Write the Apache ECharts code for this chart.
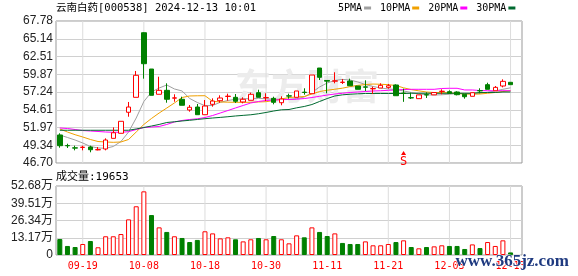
<!DOCTYPE html>
<html><head><meta charset="utf-8">
<script src="https://cdn.jsdelivr.net/npm/echarts@6/dist/echarts.min.js"></script>
<style>html,body{margin:0;padding:0;background:#fff}#c{width:578px;height:276px}</style>
</head><body><div id="c"></div>
<script>
const dates = ['09-12','09-13','09-18','09-19','09-20','09-23','09-24','09-25','09-26','09-27',
'09-30','10-08','10-09','10-10','10-11','10-14','10-15','10-16','10-17','10-18',
'10-21','10-22','10-23','10-24','10-25','10-28','10-29','10-30','10-31','11-01',
'11-04','11-05','11-06','11-07','11-08','11-11','11-12','11-13','11-14','11-15',
'11-18','11-19','11-20','11-21','11-22','11-25','11-26','11-27','11-28','11-29',
'12-02','12-03','12-04','12-05','12-06','12-09','12-10','12-11','12-12','12-13'];
const opens = [50.86,49.30,48.95,49.01,49.07,48.65,48.78,50.36,51.11,54.23,
56.45,66.04,60.65,56.90,57.49,56.33,56.16,54.57,55.01,53.87,
55.41,55.95,56.58,56.45,55.76,56.01,57.14,56.38,56.30,55.65,
56.67,56.45,57.21,56.99,60.80,58.95,58.85,58.66,58.87,58.13,
58.00,57.71,57.83,57.93,58.28,57.07,56.40,56.25,56.84,56.82,
57.32,57.29,57.24,56.90,56.60,57.45,58.33,57.43,58.13,58.68];
const closes = [49.27,49.25,48.91,49.05,48.67,48.69,50.11,51.19,52.89,55.01,
59.72,61.44,56.75,57.49,56.16,56.37,55.27,54.97,53.87,55.16,
55.90,56.35,56.62,55.86,56.16,56.90,56.45,56.42,55.71,56.20,
56.63,57.39,57.17,59.76,59.42,58.85,58.89,58.70,58.17,57.64,
57.96,57.75,58.23,58.17,56.69,57.03,56.36,56.81,56.80,57.16,
57.36,57.05,56.84,56.54,57.14,57.41,57.64,57.93,58.82,58.33];
const lows = [48.97,48.93,48.58,48.58,48.29,48.58,48.58,50.36,51.11,53.57,
56.45,59.22,56.75,56.90,55.65,55.80,55.27,54.32,53.87,53.87,
55.06,55.65,55.95,55.61,55.56,56.01,56.45,55.90,55.41,55.27,
56.25,56.45,56.84,56.99,59.02,57.05,58.53,58.43,58.17,57.64,
57.39,56.94,57.83,57.73,56.69,55.78,56.20,56.25,56.35,56.82,
56.90,56.99,56.74,56.25,56.60,57.05,57.64,57.43,57.93,58.33];
const highs = [51.11,49.56,49.27,49.27,49.27,49.07,50.36,51.99,52.89,55.76,
60.36,66.10,60.65,59.51,58.53,56.90,56.54,55.31,55.46,56.05,
56.30,56.75,56.99,56.94,56.45,57.14,57.58,57.05,56.54,56.60,
56.99,57.39,57.79,59.76,60.80,58.95,60.17,59.17,59.22,58.13,
58.98,58.03,58.53,58.43,58.38,57.74,57.14,56.81,57.19,57.16,
57.64,57.49,57.34,56.90,57.14,57.79,58.62,58.13,59.12,58.68];
const volumes = [122000,69000,61000,84000,107000,59000,143000,143000,160000,272000,
372000,486000,305000,211000,176000,143000,130000,99000,115000,181000,
165000,127000,135000,120000,104000,120000,130000,120000,145000,120000,
89000,150000,135000,211000,176000,145000,165000,92000,84000,84000,
104000,74000,74000,84000,99000,112000,61000,51000,61000,66000,
74000,69000,69000,46000,81000,53000,99000,69000,112000,19653];
const volumeDirection = [-1,-1,-1,1,-1,1,1,1,1,1, 1,1,-1,1,-1,1,-1,-1,-1,1,
1,1,1,-1,1,1,-1,1,-1,1, 1,1,-1,1,-1,-1,1,-1,-1,-1,
1,1,1,1,-1,1,-1,1,-1,1, 1,-1,-1,-1,1,-1,1,1,1,-1];
const ma5 = [50.86,50.49,50.11,49.67,49.15,48.93,48.88,49.15,49.89,51.30,
53.38,55.83,57.24,57.83,58.28,57.69,57.39,56.28,55.68,55.21,
55.24,55.71,55.98,56.16,56.23,56.26,56.30,56.23,56.17,56.16,
56.17,56.25,56.50,57.17,57.98,58.58,58.95,59.11,59.02,58.73,
58.35,58.06,57.83,57.69,57.61,57.39,57.17,56.94,56.83,56.79,
56.83,56.91,57.02,56.98,56.94,57.02,57.20,57.39,57.64,57.86];
const ma10 = [51.75,51.30,50.90,50.56,50.19,49.89,49.82,49.77,49.82,50.19,
51.30,52.42,53.31,54.12,54.86,55.61,56.42,56.65,56.68,56.69,
55.86,55.76,55.73,55.71,55.71,55.71,55.76,55.80,55.98,56.20,
56.42,56.50,56.57,56.94,57.31,57.50,57.65,57.81,58.04,58.23,
58.35,58.42,58.39,58.33,58.20,57.86,57.60,57.41,57.24,57.16,
57.15,57.12,57.02,56.94,56.94,56.94,57.05,57.17,57.31,57.43];
const ma20 = [51.90,51.82,51.67,51.52,51.45,51.38,51.30,51.26,51.26,51.35,
51.67,51.97,52.04,52.12,52.42,52.79,53.01,53.16,53.26,53.45,
53.75,54.12,54.49,54.87,55.24,55.61,55.83,55.98,56.05,56.10,
56.13,56.17,56.27,56.42,56.60,56.79,56.94,57.05,57.17,57.24,
57.31,57.39,57.43,57.49,57.54,57.61,57.64,57.64,57.64,57.64,
57.76,57.79,57.79,57.54,57.54,57.46,57.43,57.43,57.43,57.43];
const ma30 = [51.56,51.56,51.56,51.56,51.56,51.56,51.56,51.56,51.56,51.56,
51.75,51.97,52.19,52.42,52.71,52.82,52.94,53.04,53.16,53.28,
53.38,53.47,53.57,53.68,53.77,53.86,54.01,54.20,54.42,54.60,
54.64,54.89,55.09,55.38,55.83,56.27,56.65,56.82,56.91,56.97,
57.02,57.02,57.02,57.02,57.02,57.02,57.05,57.05,57.05,57.05,
57.05,57.05,57.05,57.05,57.05,57.17,57.17,57.17,57.24,57.24];
const priceTicks = ['46.70','49.34','51.97','54.61','57.24','59.87','62.51','65.14','67.78'];
const volumeTicks = ['0','13.17万','26.34万','39.51万','52.68万'];
const xTickLabels = ['09-19','10-08','10-18','10-30','11-11','11-21','12-03','12-13'];
const signalDate = '11-25', signalPrice = 48.2;
const titleText = '云南白药[000538] 2024-12-13 10:01';
const volumeText = '成交量:19653';

const PMIN = 46.70, PMAX = 67.78, PINT = (PMAX - PMIN) / 8;
const VMAX = 526800, VINT = VMAX / 4;
const MONO = "'DejaVu Sans Mono','Noto Sans CJK SC',monospace";
const SANS = "'Liberation Sans','Noto Sans CJK SC',sans-serif";
const RED = '#ff0000', GREEN = '#008000';

const cats = dates.concat(['']);
const candle = dates.map((d, i) => [opens[i], closes[i], lows[i], highs[i]]);
const volData = volumes.map((v, i) => ({
  value: v,
  itemStyle: volumeDirection[i] > 0 ? {color: '#fff', borderColor: RED, borderWidth: 1}
                                    : {color: GREEN, borderColor: GREEN, borderWidth: 1}
}));
const gridLineSeries = [];
xTickLabels.forEach(t => {
  gridLineSeries.push({name: 'vgrid-p-' + t, type: 'line', data: [[t, PMIN], [t, PMAX]],
    xAxisIndex: 0, yAxisIndex: 0, symbol: 'none', showSymbol: false,
    lineStyle: {color: '#dcdcdc', width: 1}});
  gridLineSeries.push({name: 'vgrid-v-' + t, type: 'line', data: [[t, 0], [t, VMAX]],
    xAxisIndex: 1, yAxisIndex: 1, symbol: 'none', showSymbol: false,
    lineStyle: {color: '#dcdcdc', width: 1}});
});

const chart = echarts.init(document.getElementById('c'));
const maSeries = (name, data, color) => ({
  name, type: 'line', data, xAxisIndex: 0, yAxisIndex: 0, showSymbol: false, symbol: 'none',
  lineStyle: {width: 1, color}, itemStyle: {color}, z: 3
});
chart.setOption({
  animation: false,
  backgroundColor: '#fff',
  title: {text: titleText, left: 56, top: 3, padding: 0,
    textStyle: {fontFamily: MONO, fontSize: 10.5, fontWeight: 'normal', color: '#000'}},
  legend: {
    data: ['5PMA', '10PMA', '20PMA', '30PMA'], left: 338, top: 3, padding: 0,
    align: 'right', icon: 'rect', itemWidth: 7, itemHeight: 3, itemGap: 9,
    textStyle: {fontFamily: MONO, fontSize: 10, color: '#000', padding: [0, -3, 0, 0]}
  },
  grid: [
    {left: 56, right: 56, top: 21, height: 142, show: true, borderColor: '#999', borderWidth: 1},
    {left: 56, right: 56, top: 186, height: 69, show: true, borderColor: '#999', borderWidth: 1}
  ],
  xAxis: [
    {type: 'category', data: cats, gridIndex: 0, boundaryGap: true,
     axisLine: {show: false}, axisTick: {show: false}, axisLabel: {show: false}, splitLine: {show: false}},
    {type: 'category', data: cats, gridIndex: 1, boundaryGap: true,
     axisLine: {show: false}, axisTick: {show: false}, splitLine: {show: false},
     axisLabel: {interval: (idx, val) => xTickLabels.indexOf(val) >= 0, color: RED,
       fontFamily: MONO, fontSize: 10, margin: 6, hideOverlap: false}}
  ],
  yAxis: [
    {type: 'value', gridIndex: 0, min: PMIN, max: PMAX, interval: PINT,
     axisLine: {show: false}, axisTick: {show: false},
     splitLine: {show: true, lineStyle: {color: '#d0d0d0', width: 1}},
     axisLabel: {margin: 3, color: '#222', fontFamily: SANS, fontSize: 12,
       formatter: v => priceTicks[Math.round((v - PMIN) / PINT)] || ''}},
    {type: 'value', gridIndex: 1, min: 0, max: VMAX, interval: VINT,
     axisLine: {show: false}, axisTick: {show: false},
     splitLine: {show: true, lineStyle: {color: '#d0d0d0', width: 1}},
     axisLabel: {margin: 3, color: '#222', fontFamily: SANS, fontSize: 12,
       formatter: v => volumeTicks[Math.round(v / VINT)] || ''}}
  ],
  graphic: [
    {type: 'text', left: 235, top: 68, z: 1, silent: true,
     style: {text: '东方财富', fontSize: 36, fontWeight: 'bold', fontFamily: "'Noto Sans CJK SC'", fill: '#ececec'}},
    {type: 'text', left: 56, top: 172, z: 10, silent: true,
     style: {text: volumeText, fontSize: 11, fontFamily: MONO, fill: '#000'}},
    {type: 'text', left: 455, top: 253, z: 100, silent: true,
     style: {text: 'www.365jz.com', fontSize: 17, fontWeight: 'bold', fontFamily: "'Liberation Serif',serif",
       fill: '#1f3a80', stroke: '#fff', lineWidth: 1}}
  ],
  series: gridLineSeries.concat([
    {name: 'K', type: 'candlestick', data: candle, xAxisIndex: 0, yAxisIndex: 0, barWidth: 5, z: 4,
     itemStyle: {color: '#fff', color0: GREEN, borderColor: RED, borderColor0: GREEN, borderWidth: 1},
     markPoint: {data: [{coord: [signalDate, signalPrice], symbol: 'triangle', symbolSize: [5, 4],
       itemStyle: {color: RED},
       label: {show: true, position: 'bottom', distance: 1, formatter: 'S', color: RED, fontSize: 12, fontFamily: MONO}}]}},
    maSeries('5PMA', ma5, '#a0a0a0'),
    maSeries('10PMA', ma10, '#f0a000'),
    maSeries('20PMA', ma20, '#ff00ff'),
    maSeries('30PMA', ma30, '#006a30'),
    {name: 'VOL', type: 'bar', data: volData, xAxisIndex: 1, yAxisIndex: 1, barWidth: 5, z: 4}
  ])
});
</script>
</body></html>
